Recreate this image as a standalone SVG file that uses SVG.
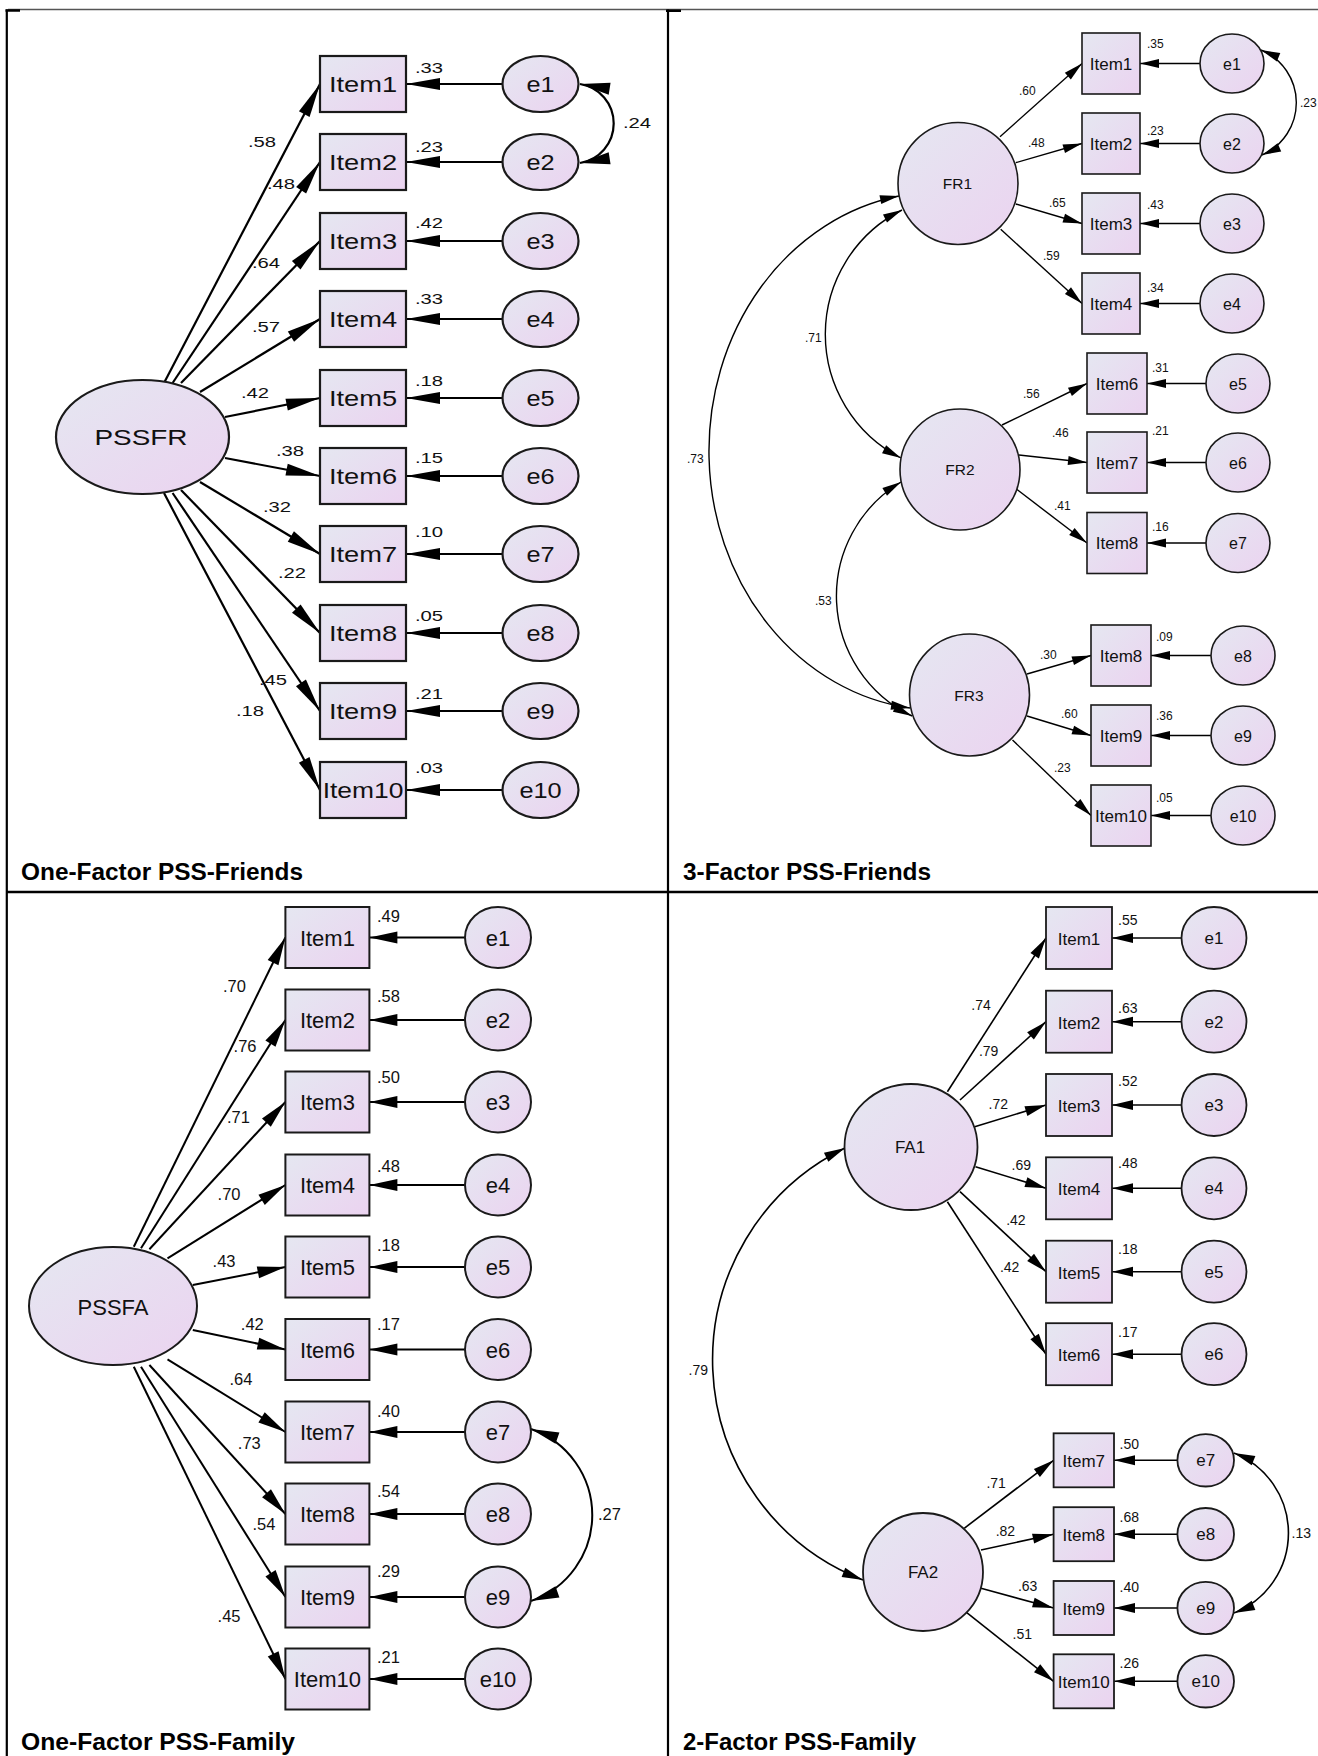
<svg xmlns="http://www.w3.org/2000/svg" width="1318" height="1756" viewBox="0 0 1318 1756">
<style>
.nd{fill:url(#g);stroke:#1a1a1a}
.s1{stroke-width:2.2}.s2{stroke-width:1.6}.s3{stroke-width:2}.s4{stroke-width:1.8}
.t{font-family:"Liberation Sans",Arial,sans-serif;fill:#111}
.m{text-anchor:middle}
.i1{font-size:22px}.n1{font-size:15px}
.i2{font-size:17px}.e2{font-size:16px}.n2{font-size:12px}.f2{font-size:15.5px}
.i3{font-size:22px}.n3{font-size:16.5px}
.i4{font-size:17px}.n4{font-size:14px}
.cap{font-family:"Liberation Sans",Arial,sans-serif;font-weight:bold;font-size:23px;fill:#000}
.c1{stroke:#000;stroke-width:2.2;fill:none;marker-end:url(#m1)}
.k1{stroke:#000;stroke-width:2.2;fill:none;marker-start:url(#m1c);marker-end:url(#m1c)}
.c2{stroke:#000;stroke-width:1.4;fill:none;marker-end:url(#m2)}
.k2{stroke:#000;stroke-width:1.4;fill:none;marker-start:url(#m2c);marker-end:url(#m2c)}
.c3{stroke:#000;stroke-width:2;fill:none;marker-end:url(#m3)}
.k3{stroke:#000;stroke-width:2;fill:none;marker-start:url(#m3c);marker-end:url(#m3c)}
.c4{stroke:#000;stroke-width:1.6;fill:none;marker-end:url(#m4)}
.k4{stroke:#000;stroke-width:1.6;fill:none;marker-start:url(#m4c);marker-end:url(#m4c)}
</style>
<defs>
<linearGradient id="g" x1="0" y1="0" x2="1" y2="1"><stop offset="0" stop-color="#e5e7f1"/><stop offset="1" stop-color="#ebd3f0"/></linearGradient>
<marker id="m1" markerUnits="userSpaceOnUse" markerWidth="36" markerHeight="14" refX="34" refY="6" orient="auto" overflow="visible"><path d="M0,0L34,6L0,12z" fill="#000"/></marker>
<marker id="m1c" markerUnits="userSpaceOnUse" markerWidth="32" markerHeight="14" refX="30" refY="6" orient="auto-start-reverse" overflow="visible"><path d="M0,0L30,6L0,12z" fill="#000"/></marker>
<marker id="m2" markerUnits="userSpaceOnUse" markerWidth="20" markerHeight="10" refX="19" refY="4.5" orient="auto" overflow="visible"><path d="M0,0L19,4.5L0,9z" fill="#000"/></marker>
<marker id="m2c" markerUnits="userSpaceOnUse" markerWidth="20" markerHeight="10" refX="19" refY="4.5" orient="auto-start-reverse" overflow="visible"><path d="M0,0L19,4.5L0,9z" fill="#000"/></marker>
<marker id="m3" markerUnits="userSpaceOnUse" markerWidth="30" markerHeight="13" refX="28" refY="6" orient="auto" overflow="visible"><path d="M0,0L28,6L0,12z" fill="#000"/></marker>
<marker id="m3c" markerUnits="userSpaceOnUse" markerWidth="30" markerHeight="13" refX="28" refY="6" orient="auto-start-reverse" overflow="visible"><path d="M0,0L28,6L0,12z" fill="#000"/></marker>
<marker id="m4" markerUnits="userSpaceOnUse" markerWidth="22" markerHeight="11" refX="21" refY="5" orient="auto" overflow="visible"><path d="M0,0L21,5L0,10z" fill="#000"/></marker>
<marker id="m4c" markerUnits="userSpaceOnUse" markerWidth="22" markerHeight="11" refX="21" refY="5" orient="auto-start-reverse" overflow="visible"><path d="M0,0L21,5L0,10z" fill="#000"/></marker>
</defs>
<rect width="1318" height="1756" fill="#fff"/>
<g id="frame" fill="none">
<path d="M8,9.5H1318" stroke="#555" stroke-width="1.3"/>
<path d="M5.5,10.5H20M666,10.8H681" stroke="#000" stroke-width="2.4"/>
<path d="M6.8,9.5V1756M668,9.5V1756" stroke="#000" stroke-width="2.2"/>
<path d="M6,892H1318" stroke="#000" stroke-width="2.3"/>
</g>
<g id="connectors">
<!-- panel 1 -->
<path class="c1" d="M164,383L320,84"/>
<path class="c1" d="M172.6,383L320,162"/>
<path class="c1" d="M181,383L320,241"/>
<path class="c1" d="M200,392L320,319"/>
<path class="c1" d="M225,417L320,398"/>
<path class="c1" d="M225,458L320,476"/>
<path class="c1" d="M200,482L320,554"/>
<path class="c1" d="M181,490L320,633"/>
<path class="c1" d="M172.6,493L320,711"/>
<path class="c1" d="M164,493L320,790"/>
<path class="c1" d="M502.5,84H406"/>
<path class="c1" d="M502.5,162H406"/>
<path class="c1" d="M502.5,241H406"/>
<path class="c1" d="M502.5,319H406"/>
<path class="c1" d="M502.5,398H406"/>
<path class="c1" d="M502.5,476H406"/>
<path class="c1" d="M502.5,554H406"/>
<path class="c1" d="M502.5,633H406"/>
<path class="c1" d="M502.5,711H406"/>
<path class="c1" d="M502.5,790H406"/>
<path class="k1" d="M580,84A40,40 0 0 1 580,163"/>
<g class="t n1">
<text transform="translate(248,147) scale(1.35,1)">.58</text>
<text transform="translate(267,189) scale(1.35,1)">.48</text>
<text transform="translate(252,268) scale(1.35,1)">.64</text>
<text transform="translate(252,332) scale(1.35,1)">.57</text>
<text transform="translate(241,398) scale(1.35,1)">.42</text>
<text transform="translate(276,456) scale(1.35,1)">.38</text>
<text transform="translate(263,512) scale(1.35,1)">.32</text>
<text transform="translate(278,578) scale(1.35,1)">.22</text>
<text transform="translate(259,685) scale(1.35,1)">.45</text>
<text transform="translate(236,716) scale(1.35,1)">.18</text>
<text transform="translate(623,128) scale(1.35,1)">.24</text>
</g>
<!-- panel 2 -->
<path class="c2" d="M1000,136.7L1082,63.5"/>
<path class="c2" d="M1015.8,162.7L1082,143.5"/>
<path class="c2" d="M1015.8,204L1082,223.5"/>
<path class="c2" d="M1000.7,229.3L1082,303.5"/>
<path class="c2" d="M1002,425L1087,383.5"/>
<path class="c2" d="M1019,455L1087,462.5"/>
<path class="c2" d="M1016.7,489.3L1087,543"/>
<path class="c2" d="M1027,674L1091,655.5"/>
<path class="c2" d="M1027,716L1091,735.5"/>
<path class="c2" d="M1012.5,740L1091,815.5"/>
<path class="c2" d="M1200,63.5H1140"/>
<path class="c2" d="M1200,143.5H1140"/>
<path class="c2" d="M1200,223.5H1140"/>
<path class="c2" d="M1200,303.5H1140"/>
<path class="c2" d="M1206,383.5H1147"/>
<path class="c2" d="M1206,462.5H1147"/>
<path class="c2" d="M1206,543H1147"/>
<path class="c2" d="M1211,655.5H1151"/>
<path class="c2" d="M1211,735.5H1151"/>
<path class="c2" d="M1211,815.5H1151"/>
<path class="k2" d="M1261,50A57,57 0 0 1 1262,155"/>
<path class="k2" d="M899,196A230,259 0 0 0 910,708"/>
<path class="k2" d="M902,210A139,139 0 0 0 901,458"/>
<path class="k2" d="M901,482A133,133 0 0 0 912,716"/>
<g class="t n2">
<text x="1019" y="95">.60</text>
<text x="1028" y="147">.48</text>
<text x="1049" y="207">.65</text>
<text x="1043" y="260">.59</text>
<text x="1023" y="398">.56</text>
<text x="1052" y="437">.46</text>
<text x="1054" y="510">.41</text>
<text x="1040" y="659">.30</text>
<text x="1061" y="718">.60</text>
<text x="1054" y="772">.23</text>
<text x="805" y="342">.71</text>
<text x="687" y="463">.73</text>
<text x="815" y="605">.53</text>
<text x="1300" y="107">.23</text>
</g>
<!-- panel 3 -->
<path class="c3" d="M133.8,1246.7L285.4,937.5"/>
<path class="c3" d="M141,1248.3L285.4,1020"/>
<path class="c3" d="M149.4,1249.3L285.4,1102"/>
<path class="c3" d="M167.5,1258.3L285.4,1185"/>
<path class="c3" d="M192.8,1285L285.4,1267"/>
<path class="c3" d="M192.8,1330L285.4,1349.5"/>
<path class="c3" d="M167.5,1359.3L285.4,1432"/>
<path class="c3" d="M149.4,1365L285.4,1514"/>
<path class="c3" d="M141,1366.7L285.4,1597"/>
<path class="c3" d="M133.8,1366.7L285.4,1679"/>
<path class="c3" d="M465,937.5H369.4"/>
<path class="c3" d="M465,1020H369.4"/>
<path class="c3" d="M465,1102H369.4"/>
<path class="c3" d="M465,1185H369.4"/>
<path class="c3" d="M465,1267H369.4"/>
<path class="c3" d="M465,1349.5H369.4"/>
<path class="c3" d="M465,1432H369.4"/>
<path class="c3" d="M465,1514H369.4"/>
<path class="c3" d="M465,1597H369.4"/>
<path class="c3" d="M465,1679H369.4"/>
<path class="k3" d="M531,1429A91,91 0 0 1 531,1601"/>
<g class="t n3">
<text x="223" y="992">.70</text>
<text x="233.6" y="1052">.76</text>
<text x="227" y="1123">.71</text>
<text x="217.6" y="1200">.70</text>
<text x="212.6" y="1267">.43</text>
<text x="240.8" y="1330">.42</text>
<text x="229.4" y="1385">.64</text>
<text x="237.8" y="1449">.73</text>
<text x="252.5" y="1530">.54</text>
<text x="217.6" y="1622">.45</text>
<text x="598" y="1520">.27</text>
</g>
<!-- panel 4 -->
<path class="c4" d="M947.4,1091.7L1046,938"/>
<path class="c4" d="M960,1100L1046,1021.7"/>
<path class="c4" d="M974.7,1126.7L1046,1105"/>
<path class="c4" d="M975.5,1166.7L1046,1188.3"/>
<path class="c4" d="M960,1191.7L1046,1271.7"/>
<path class="c4" d="M947.4,1201.7L1046,1354.2"/>
<path class="c4" d="M964.2,1528.3L1053.6,1460.3"/>
<path class="c4" d="M981,1550L1053.6,1534.2"/>
<path class="c4" d="M981,1588.3L1053.6,1608"/>
<path class="c4" d="M965.5,1611.7L1053.6,1681.3"/>
<path class="c4" d="M1181.5,938H1112"/>
<path class="c4" d="M1181.5,1021.7H1112"/>
<path class="c4" d="M1181.5,1105H1112"/>
<path class="c4" d="M1181.5,1188.3H1112"/>
<path class="c4" d="M1181.5,1271.7H1112"/>
<path class="c4" d="M1181.5,1354.2H1112"/>
<path class="c4" d="M1177.4,1460.3H1114"/>
<path class="c4" d="M1177.4,1534.2H1114"/>
<path class="c4" d="M1177.4,1608H1114"/>
<path class="c4" d="M1177.4,1681.3H1114"/>
<path class="k4" d="M845,1148A236,236 0 0 0 863,1580"/>
<path class="k4" d="M1234,1453A86,86 0 0 1 1234,1613"/>
<g class="t n4">
<text x="971.3" y="1010">.74</text>
<text x="978.9" y="1056">.79</text>
<text x="988.5" y="1109">.72</text>
<text x="1011.6" y="1170">.69</text>
<text x="1006.2" y="1225">.42</text>
<text x="999.9" y="1272">.42</text>
<text x="986.4" y="1488">.71</text>
<text x="995.7" y="1536">.82</text>
<text x="1017.9" y="1591">.63</text>
<text x="1012.5" y="1639">.51</text>
<text x="688.5" y="1375">.79</text>
<text x="1291.5" y="1538">.13</text>
</g>
</g>
<!-- ================= PANEL 1 NODES ================= -->
<g id="p1-PSSFR"><ellipse class="nd s1" cx="142.5" cy="437" rx="86.5" ry="57"/><text class="t i1 m" transform="translate(141,445) scale(1.27,1)">PSSFR</text></g>
<g id="p1-item1"><rect class="nd s1" x="320" y="56" width="86" height="56"/><text class="t i1 m" transform="translate(363,92) scale(1.24,1)">Item1</text><text class="t n1" transform="translate(415,73) scale(1.35,1)">.33</text></g>
<g id="p1-item2"><rect class="nd s1" x="320" y="134" width="86" height="56"/><text class="t i1 m" transform="translate(363,170) scale(1.24,1)">Item2</text><text class="t n1" transform="translate(415,152) scale(1.35,1)">.23</text></g>
<g id="p1-item3"><rect class="nd s1" x="320" y="213" width="86" height="56"/><text class="t i1 m" transform="translate(363,249) scale(1.24,1)">Item3</text><text class="t n1" transform="translate(415,228) scale(1.35,1)">.42</text></g>
<g id="p1-item4"><rect class="nd s1" x="320" y="291" width="86" height="56"/><text class="t i1 m" transform="translate(363,327) scale(1.24,1)">Item4</text><text class="t n1" transform="translate(415,304) scale(1.35,1)">.33</text></g>
<g id="p1-item5"><rect class="nd s1" x="320" y="370" width="86" height="56"/><text class="t i1 m" transform="translate(363,406) scale(1.24,1)">Item5</text><text class="t n1" transform="translate(415,386) scale(1.35,1)">.18</text></g>
<g id="p1-item6"><rect class="nd s1" x="320" y="448" width="86" height="56"/><text class="t i1 m" transform="translate(363,484) scale(1.24,1)">Item6</text><text class="t n1" transform="translate(415,463) scale(1.35,1)">.15</text></g>
<g id="p1-item7"><rect class="nd s1" x="320" y="526" width="86" height="56"/><text class="t i1 m" transform="translate(363,562) scale(1.24,1)">Item7</text><text class="t n1" transform="translate(415,537) scale(1.35,1)">.10</text></g>
<g id="p1-item8"><rect class="nd s1" x="320" y="605" width="86" height="56"/><text class="t i1 m" transform="translate(363,641) scale(1.24,1)">Item8</text><text class="t n1" transform="translate(415,621) scale(1.35,1)">.05</text></g>
<g id="p1-item9"><rect class="nd s1" x="320" y="683" width="86" height="56"/><text class="t i1 m" transform="translate(363,719) scale(1.24,1)">Item9</text><text class="t n1" transform="translate(415,699) scale(1.35,1)">.21</text></g>
<g id="p1-item10"><rect class="nd s1" x="320" y="762" width="86" height="56"/><text class="t i1 m" transform="translate(363,798) scale(1.2,1)">Item10</text><text class="t n1" transform="translate(415,773) scale(1.35,1)">.03</text></g>
<g id="p1-e1"><ellipse class="nd s1" cx="540.5" cy="84" rx="38" ry="28"/><text class="t i1 m" transform="translate(540.5,92) scale(1.15,1)">e1</text></g>
<g id="p1-e2"><ellipse class="nd s1" cx="540.5" cy="162" rx="38" ry="28"/><text class="t i1 m" transform="translate(540.5,170) scale(1.15,1)">e2</text></g>
<g id="p1-e3"><ellipse class="nd s1" cx="540.5" cy="241" rx="38" ry="28"/><text class="t i1 m" transform="translate(540.5,249) scale(1.15,1)">e3</text></g>
<g id="p1-e4"><ellipse class="nd s1" cx="540.5" cy="319" rx="38" ry="28"/><text class="t i1 m" transform="translate(540.5,327) scale(1.15,1)">e4</text></g>
<g id="p1-e5"><ellipse class="nd s1" cx="540.5" cy="398" rx="38" ry="28"/><text class="t i1 m" transform="translate(540.5,406) scale(1.15,1)">e5</text></g>
<g id="p1-e6"><ellipse class="nd s1" cx="540.5" cy="476" rx="38" ry="28"/><text class="t i1 m" transform="translate(540.5,484) scale(1.15,1)">e6</text></g>
<g id="p1-e7"><ellipse class="nd s1" cx="540.5" cy="554" rx="38" ry="28"/><text class="t i1 m" transform="translate(540.5,562) scale(1.15,1)">e7</text></g>
<g id="p1-e8"><ellipse class="nd s1" cx="540.5" cy="633" rx="38" ry="28"/><text class="t i1 m" transform="translate(540.5,641) scale(1.15,1)">e8</text></g>
<g id="p1-e9"><ellipse class="nd s1" cx="540.5" cy="711" rx="38" ry="28"/><text class="t i1 m" transform="translate(540.5,719) scale(1.15,1)">e9</text></g>
<g id="p1-e10"><ellipse class="nd s1" cx="540.5" cy="790" rx="38" ry="28"/><text class="t i1 m" transform="translate(540.5,798) scale(1.15,1)">e10</text></g>
<!-- ================= PANEL 2 NODES ================= -->
<g id="p2-FR1"><ellipse class="nd s2" cx="958" cy="183.5" rx="60" ry="61"/><text class="t f2 m" x="957.5" y="189">FR1</text></g>
<g id="p2-FR2"><ellipse class="nd s2" cx="960" cy="469.5" rx="60" ry="60.5"/><text class="t f2 m" x="960" y="475">FR2</text></g>
<g id="p2-FR3"><ellipse class="nd s2" cx="969.5" cy="695" rx="60" ry="61"/><text class="t f2 m" x="969" y="701">FR3</text></g>
<g id="p2-item1"><rect class="nd s2" x="1082" y="33" width="58" height="61"/><text class="t i2 m" x="1111" y="69.5">Item1</text><text class="t n2" x="1147" y="48">.35</text></g>
<g id="p2-item2"><rect class="nd s2" x="1082" y="113" width="58" height="61"/><text class="t i2 m" x="1111" y="149.5">Item2</text><text class="t n2" x="1147" y="135">.23</text></g>
<g id="p2-item3"><rect class="nd s2" x="1082" y="193" width="58" height="61"/><text class="t i2 m" x="1111" y="229.5">Item3</text><text class="t n2" x="1147" y="209">.43</text></g>
<g id="p2-item4"><rect class="nd s2" x="1082" y="273" width="58" height="61"/><text class="t i2 m" x="1111" y="309.5">Item4</text><text class="t n2" x="1147" y="292">.34</text></g>
<g id="p2-item6"><rect class="nd s2" x="1087" y="353" width="60" height="61"/><text class="t i2 m" x="1117" y="389.5">Item6</text><text class="t n2" x="1152" y="372">.31</text></g>
<g id="p2-item7"><rect class="nd s2" x="1087" y="432" width="60" height="61"/><text class="t i2 m" x="1117" y="468.5">Item7</text><text class="t n2" x="1152" y="435">.21</text></g>
<g id="p2-item8a"><rect class="nd s2" x="1087" y="512.5" width="60" height="61"/><text class="t i2 m" x="1117" y="549">Item8</text><text class="t n2" x="1152" y="531">.16</text></g>
<g id="p2-item8b"><rect class="nd s2" x="1091" y="625" width="60" height="61"/><text class="t i2 m" x="1121" y="661.5">Item8</text><text class="t n2" x="1156" y="641">.09</text></g>
<g id="p2-item9"><rect class="nd s2" x="1091" y="705" width="60" height="61"/><text class="t i2 m" x="1121" y="741.5">Item9</text><text class="t n2" x="1156" y="720">.36</text></g>
<g id="p2-item10"><rect class="nd s2" x="1091" y="785" width="60" height="61"/><text class="t i2 m" x="1121" y="821.5">Item10</text><text class="t n2" x="1156" y="802">.05</text></g>
<g id="p2-e1"><ellipse class="nd s2" cx="1232" cy="63.5" rx="32" ry="29.5"/><text class="t e2 m" x="1232" y="69.5">e1</text></g>
<g id="p2-e2"><ellipse class="nd s2" cx="1232" cy="143.5" rx="32" ry="29.5"/><text class="t e2 m" x="1232" y="149.5">e2</text></g>
<g id="p2-e3"><ellipse class="nd s2" cx="1232" cy="223.5" rx="32" ry="29.5"/><text class="t e2 m" x="1232" y="229.5">e3</text></g>
<g id="p2-e4"><ellipse class="nd s2" cx="1232" cy="303.5" rx="32" ry="29.5"/><text class="t e2 m" x="1232" y="309.5">e4</text></g>
<g id="p2-e5"><ellipse class="nd s2" cx="1238" cy="383.5" rx="32" ry="29.5"/><text class="t e2 m" x="1238" y="389.5">e5</text></g>
<g id="p2-e6"><ellipse class="nd s2" cx="1238" cy="462.5" rx="32" ry="29.5"/><text class="t e2 m" x="1238" y="468.5">e6</text></g>
<g id="p2-e7"><ellipse class="nd s2" cx="1238" cy="543" rx="32" ry="29.5"/><text class="t e2 m" x="1238" y="549">e7</text></g>
<g id="p2-e8"><ellipse class="nd s2" cx="1243" cy="655.5" rx="32" ry="29.5"/><text class="t e2 m" x="1243" y="661.5">e8</text></g>
<g id="p2-e9"><ellipse class="nd s2" cx="1243" cy="735.5" rx="32" ry="29.5"/><text class="t e2 m" x="1243" y="741.5">e9</text></g>
<g id="p2-e10"><ellipse class="nd s2" cx="1243" cy="815.5" rx="32" ry="29.5"/><text class="t e2 m" x="1243" y="821.5">e10</text></g>
<!-- ================= PANEL 3 NODES ================= -->
<g id="p3-PSSFA"><ellipse class="nd s3" cx="113" cy="1306" rx="84" ry="59"/><text class="t i3 m" x="113" y="1315">PSSFA</text></g>
<g id="p3-item1"><rect class="nd s3" x="285.4" y="907" width="84" height="61"/><text class="t i3 m" x="327.4" y="945.5">Item1</text><text class="t n3" x="377" y="921.7">.49</text></g>
<g id="p3-item2"><rect class="nd s3" x="285.4" y="989.5" width="84" height="61"/><text class="t i3 m" x="327.4" y="1028">Item2</text><text class="t n3" x="377" y="1001.7">.58</text></g>
<g id="p3-item3"><rect class="nd s3" x="285.4" y="1071.5" width="84" height="61"/><text class="t i3 m" x="327.4" y="1110">Item3</text><text class="t n3" x="377" y="1083.3">.50</text></g>
<g id="p3-item4"><rect class="nd s3" x="285.4" y="1154.5" width="84" height="61"/><text class="t i3 m" x="327.4" y="1193">Item4</text><text class="t n3" x="377" y="1171.7">.48</text></g>
<g id="p3-item5"><rect class="nd s3" x="285.4" y="1236.5" width="84" height="61"/><text class="t i3 m" x="327.4" y="1275">Item5</text><text class="t n3" x="377" y="1250.7">.18</text></g>
<g id="p3-item6"><rect class="nd s3" x="285.4" y="1319" width="84" height="61"/><text class="t i3 m" x="327.4" y="1357.5">Item6</text><text class="t n3" x="377" y="1330">.17</text></g>
<g id="p3-item7"><rect class="nd s3" x="285.4" y="1401.5" width="84" height="61"/><text class="t i3 m" x="327.4" y="1440">Item7</text><text class="t n3" x="377" y="1416.7">.40</text></g>
<g id="p3-item8"><rect class="nd s3" x="285.4" y="1483.5" width="84" height="61"/><text class="t i3 m" x="327.4" y="1522">Item8</text><text class="t n3" x="377" y="1496.7">.54</text></g>
<g id="p3-item9"><rect class="nd s3" x="285.4" y="1566.5" width="84" height="61"/><text class="t i3 m" x="327.4" y="1605">Item9</text><text class="t n3" x="377" y="1576.7">.29</text></g>
<g id="p3-item10"><rect class="nd s3" x="285.4" y="1648.5" width="84" height="61"/><text class="t i3 m" x="327.4" y="1687">Item10</text><text class="t n3" x="377" y="1663.3">.21</text></g>
<g id="p3-e1"><ellipse class="nd s3" cx="498" cy="937.5" rx="33" ry="30.5"/><text class="t i3 m" x="498" y="945.5">e1</text></g>
<g id="p3-e2"><ellipse class="nd s3" cx="498" cy="1020" rx="33" ry="30.5"/><text class="t i3 m" x="498" y="1028">e2</text></g>
<g id="p3-e3"><ellipse class="nd s3" cx="498" cy="1102" rx="33" ry="30.5"/><text class="t i3 m" x="498" y="1110">e3</text></g>
<g id="p3-e4"><ellipse class="nd s3" cx="498" cy="1185" rx="33" ry="30.5"/><text class="t i3 m" x="498" y="1193">e4</text></g>
<g id="p3-e5"><ellipse class="nd s3" cx="498" cy="1267" rx="33" ry="30.5"/><text class="t i3 m" x="498" y="1275">e5</text></g>
<g id="p3-e6"><ellipse class="nd s3" cx="498" cy="1349.5" rx="33" ry="30.5"/><text class="t i3 m" x="498" y="1357.5">e6</text></g>
<g id="p3-e7"><ellipse class="nd s3" cx="498" cy="1432" rx="33" ry="30.5"/><text class="t i3 m" x="498" y="1440">e7</text></g>
<g id="p3-e8"><ellipse class="nd s3" cx="498" cy="1514" rx="33" ry="30.5"/><text class="t i3 m" x="498" y="1522">e8</text></g>
<g id="p3-e9"><ellipse class="nd s3" cx="498" cy="1597" rx="33" ry="30.5"/><text class="t i3 m" x="498" y="1605">e9</text></g>
<g id="p3-e10"><ellipse class="nd s3" cx="498" cy="1679" rx="33" ry="30.5"/><text class="t i3 m" x="498" y="1687">e10</text></g>
<!-- ================= PANEL 4 NODES ================= -->
<g id="p4-FA1"><ellipse class="nd s4" cx="911" cy="1147" rx="66.5" ry="63"/><text class="t i4 m" x="910" y="1153">FA1</text></g>
<g id="p4-FA2"><ellipse class="nd s4" cx="923" cy="1572" rx="60" ry="59"/><text class="t i4 m" x="923" y="1577.5">FA2</text></g>
<g id="p4-item1"><rect class="nd s4" x="1046" y="907" width="66" height="62"/><text class="t i4 m" x="1079" y="945">Item1</text><text class="t n4" x="1118" y="925">.55</text></g>
<g id="p4-item2"><rect class="nd s4" x="1046" y="990.7" width="66" height="62"/><text class="t i4 m" x="1079" y="1028.7">Item2</text><text class="t n4" x="1118" y="1013.3">.63</text></g>
<g id="p4-item3"><rect class="nd s4" x="1046" y="1074" width="66" height="62"/><text class="t i4 m" x="1079" y="1112">Item3</text><text class="t n4" x="1118" y="1085.7">.52</text></g>
<g id="p4-item4"><rect class="nd s4" x="1046" y="1157.3" width="66" height="62"/><text class="t i4 m" x="1079" y="1195.3">Item4</text><text class="t n4" x="1118" y="1168.3">.48</text></g>
<g id="p4-item5"><rect class="nd s4" x="1046" y="1240.7" width="66" height="62"/><text class="t i4 m" x="1079" y="1278.7">Item5</text><text class="t n4" x="1118" y="1254">.18</text></g>
<g id="p4-item6"><rect class="nd s4" x="1046" y="1323.2" width="66" height="62"/><text class="t i4 m" x="1079" y="1361.2">Item6</text><text class="t n4" x="1118" y="1337.3">.17</text></g>
<g id="p4-item7"><rect class="nd s4" x="1053.6" y="1433.3" width="60.4" height="54"/><text class="t i4 m" x="1083.8" y="1466.8">Item7</text><text class="t n4" x="1119.5" y="1449">.50</text></g>
<g id="p4-item8"><rect class="nd s4" x="1053.6" y="1507.2" width="60.4" height="54"/><text class="t i4 m" x="1083.8" y="1540.7">Item8</text><text class="t n4" x="1119.5" y="1522.3">.68</text></g>
<g id="p4-item9"><rect class="nd s4" x="1053.6" y="1581" width="60.4" height="54"/><text class="t i4 m" x="1083.8" y="1614.5">Item9</text><text class="t n4" x="1119.5" y="1592.3">.40</text></g>
<g id="p4-item10"><rect class="nd s4" x="1053.6" y="1654.3" width="60.4" height="54"/><text class="t i4 m" x="1083.8" y="1687.8">Item10</text><text class="t n4" x="1119.5" y="1668.3">.26</text></g>
<g id="p4-e1"><ellipse class="nd s4" cx="1214" cy="938" rx="32.5" ry="31"/><text class="t i4 m" x="1214" y="944">e1</text></g>
<g id="p4-e2"><ellipse class="nd s4" cx="1214" cy="1021.7" rx="32.5" ry="31"/><text class="t i4 m" x="1214" y="1027.7">e2</text></g>
<g id="p4-e3"><ellipse class="nd s4" cx="1214" cy="1105" rx="32.5" ry="31"/><text class="t i4 m" x="1214" y="1111">e3</text></g>
<g id="p4-e4"><ellipse class="nd s4" cx="1214" cy="1188.3" rx="32.5" ry="31"/><text class="t i4 m" x="1214" y="1194.3">e4</text></g>
<g id="p4-e5"><ellipse class="nd s4" cx="1214" cy="1271.7" rx="32.5" ry="31"/><text class="t i4 m" x="1214" y="1277.7">e5</text></g>
<g id="p4-e6"><ellipse class="nd s4" cx="1214" cy="1354.2" rx="32.5" ry="31"/><text class="t i4 m" x="1214" y="1360.2">e6</text></g>
<g id="p4-e7"><ellipse class="nd s4" cx="1205.7" cy="1460.3" rx="28.3" ry="26.2"/><text class="t i4 m" x="1205.7" y="1466.3">e7</text></g>
<g id="p4-e8"><ellipse class="nd s4" cx="1205.7" cy="1534.2" rx="28.3" ry="26.2"/><text class="t i4 m" x="1205.7" y="1540.2">e8</text></g>
<g id="p4-e9"><ellipse class="nd s4" cx="1205.7" cy="1608" rx="28.3" ry="26.2"/><text class="t i4 m" x="1205.7" y="1614">e9</text></g>
<g id="p4-e10"><ellipse class="nd s4" cx="1205.7" cy="1681.3" rx="28.3" ry="26.2"/><text class="t i4 m" x="1205.7" y="1687.3">e10</text></g>
<g id="captions">
<text class="cap" x="21" y="880" textLength="282" lengthAdjust="spacingAndGlyphs">One-Factor PSS-Friends</text>
<text class="cap" x="683" y="880" textLength="248" lengthAdjust="spacingAndGlyphs">3-Factor PSS-Friends</text>
<text class="cap" x="21" y="1750" textLength="274" lengthAdjust="spacingAndGlyphs">One-Factor PSS-Family</text>
<text class="cap" x="683" y="1750" textLength="233" lengthAdjust="spacingAndGlyphs">2-Factor PSS-Family</text>
</g>
</svg>
